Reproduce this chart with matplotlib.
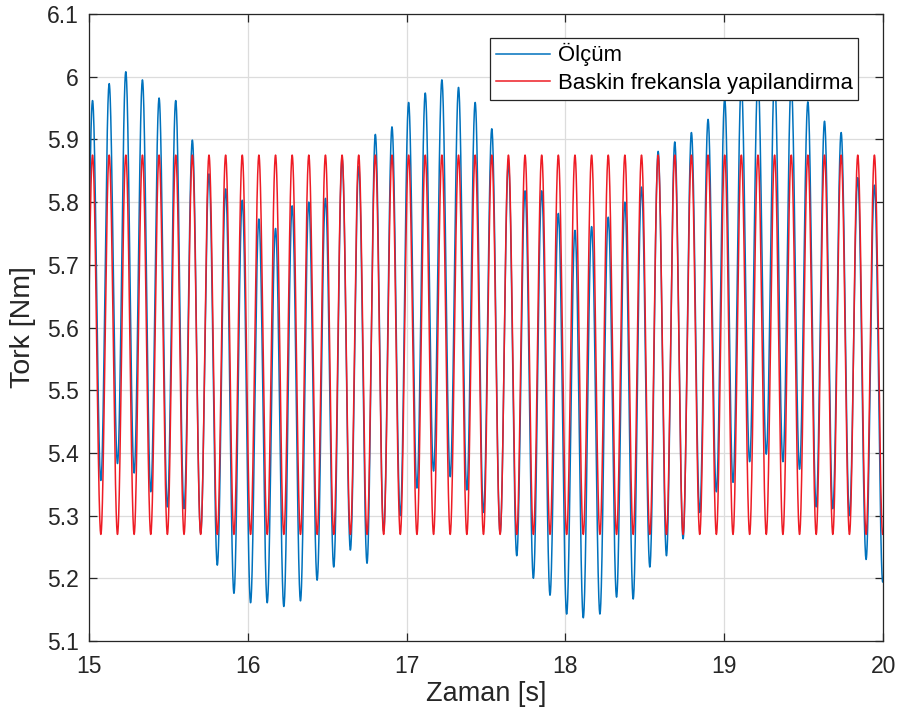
import numpy as np
import matplotlib
matplotlib.use("Agg")
import matplotlib.pyplot as plt

plt.rcParams['font.family'] = ['Liberation Sans', 'DejaVu Sans']

# Dominant-frequency reconstruction (red)
red_freq = 9.547        # Hz
red_mean = 5.5725       # Nm
red_amp = 0.3025        # Nm
red_first_peak = 15.022 # s

# Measured torque (blue): value at each successive extreme of the oscillation,
# starting with the trough just before 15 s, alternating trough / peak.
blue_troughs = [5.360, 5.356, 5.383, 5.368, 5.338, 5.314, 5.311, 5.272, 5.221, 5.176,
                5.161, 5.161, 5.155, 5.164, 5.197, 5.218, 5.245, 5.224, 5.275, 5.300,
                5.344, 5.371, 5.362, 5.341, 5.305, 5.272, 5.236, 5.200, 5.173, 5.143,
                5.137, 5.143, 5.170, 5.167, 5.218, 5.236, 5.263, 5.305, 5.338, 5.353,
                5.386, 5.398, 5.386, 5.374, 5.314, 5.311, 5.300, 5.230, 5.194]
blue_peaks = [5.962, 5.989, 6.008, 5.995, 5.966, 5.962, 5.899, 5.845, 5.821, 5.803,
              5.773, 5.758, 5.794, 5.800, 5.806, 5.870, 5.857, 5.908, 5.920,
              5.959, 5.974, 5.995, 5.983, 5.959, 5.917, 5.863, 5.818, 5.818, 5.782,
              5.755, 5.761, 5.776, 5.800, 5.824, 5.881, 5.896, 5.911, 5.932,
              5.965, 5.990, 6.000, 6.000, 5.990, 5.960, 5.929, 5.911, 5.839, 5.827]

x_ticks = [15, 16, 17, 18, 19, 20]
y_ticks = [5.1, 5.2, 5.3, 5.4, 5.5, 5.6, 5.7, 5.8, 5.9, 6.0, 6.1]
y_tick_labels = ['5.1', '5.2', '5.3', '5.4', '5.5', '5.6', '5.7', '5.8', '5.9', '6', '6.1']

period = 1.0 / red_freq
t = np.linspace(15.0, 20.0, 6000)

# red curve
red = red_mean + red_amp * np.cos(2 * np.pi * red_freq * (t - red_first_peak))

# blue curve: half-cosine transitions between successive extremes
ext_vals = []
for i in range(len(blue_troughs)):
    ext_vals.append(blue_troughs[i])
    if i < len(blue_peaks):
        ext_vals.append(blue_peaks[i])
ext_vals = np.array(ext_vals)
ext_times = red_first_peak - period / 2 + np.arange(len(ext_vals)) * period / 2
idx = np.clip(np.searchsorted(ext_times, t) - 1, 0, len(ext_vals) - 2)
s = (t - ext_times[idx]) / (ext_times[idx + 1] - ext_times[idx])
s = np.clip(s, 0, 1)
a = ext_vals[idx]
b = ext_vals[idx + 1]
blue = a + (b - a) * (1 - np.cos(np.pi * s)) / 2

fig = plt.figure(figsize=(9.03, 7.23), dpi=100)
ax = fig.add_axes([0.0986, 0.1134, 0.8794, 0.8672])

ax.plot(t, blue, color='#0072BD', lw=1.1, label='Ölçüm')
ax.plot(t, red, color='#EE1C25', lw=1.1, label='Baskin frekansla yapilandirma')

ax.set_xlim(15, 20)
ax.set_ylim(5.1, 6.1)
ax.set_xticks(x_ticks)
ax.set_xticklabels([str(v) for v in x_ticks])
ax.set_yticks(y_ticks)
ax.set_yticklabels(y_tick_labels)

ax.grid(True, color='#dcdcdc', lw=0.9)
ax.set_axisbelow(True)
for sp in ax.spines.values():
    sp.set_color('#262626')
    sp.set_linewidth(0.9)
ax.tick_params(direction='in', length=6, width=0.9, colors='#262626',
               labelsize=16.5, top=True, right=True)
ax.tick_params(axis='y', pad=7.5)
ax.tick_params(axis='x', pad=10)
ax.set_xlabel('Zaman [s]', fontsize=19.5, color='#262626', labelpad=2)
ax.set_ylabel('Tork [Nm]', fontsize=20.5, color='#262626', labelpad=8)

leg = ax.legend(loc='upper right', bbox_to_anchor=(0.9685, 0.962), borderaxespad=0,
                fancybox=False, framealpha=1, edgecolor='#262626', fontsize=15.9,
                handlelength=2.45, handletextpad=0.35, borderpad=0.25, labelspacing=0.3)
leg.get_frame().set_linewidth(0.9)
leg.set_zorder(10)

fig.savefig('out.png', dpi=100)
